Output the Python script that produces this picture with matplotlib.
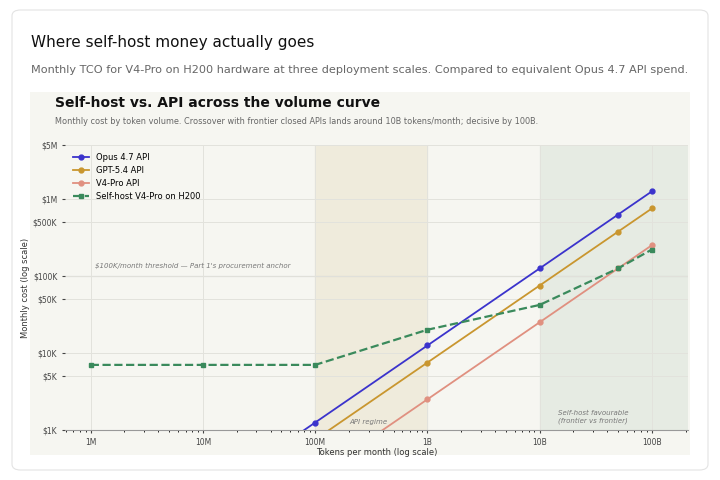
import matplotlib.pyplot as plt
from matplotlib.patches import FancyBboxPatch, Rectangle
from matplotlib.ticker import FixedLocator, NullFormatter

tokens = [1e6, 1e7, 1e8, 1e9, 1e10, 5e10, 1e11]
opus = [12.5, 125, 1250, 12500, 125000, 625000, 1250000]
gpt = [7.5, 75, 750, 7500, 75000, 375000, 750000]
v4pro = [2.5, 25, 250, 2500, 25000, 125000, 250000]
selfhost = [7000, 7000, 7000, 20000, 42000, 125000, 220000]

xticks = [1e6, 1e7, 1e8, 1e9, 1e10, 1e11]
xlabels = ["1M", "10M", "100M", "1B", "10B", "100B"]
yticks = [1e3, 5e3, 1e4, 5e4, 1e5, 5e5, 1e6, 5e6]
ylabels = ["$1K", "$5K", "$10K", "$50K", "$100K", "$500K", "$1M", "$5M"]

fig = plt.figure(figsize=(7.2, 4.8), dpi=100)
fig.patch.set_facecolor("white")
card = FancyBboxPatch((12/720, 10/480), 696/720, 460/480, boxstyle="round,pad=0,rounding_size=0.012",
                      transform=fig.transFigure, facecolor="white", edgecolor="#e3e3e3", lw=0.8, zorder=-3)
fig.patches.append(card)
panel = Rectangle((30/720, 25/480), 660/720, 363/480, transform=fig.transFigure,
                  facecolor="#f6f6f1", edgecolor="none", zorder=-2)
fig.patches.append(panel)

fig.text(31/720, 1 - 42/480, "Where self-host money actually goes", fontsize=11, color="#111", va="center")
fig.text(31/720, 1 - 70/480, "Monthly TCO for V4-Pro on H200 hardware at three deployment scales. Compared to equivalent Opus 4.7 API spend.",
         fontsize=8.1, color="#666", va="center")
fig.text(55/720, 1 - 103/480, "Self-host vs. API across the volume curve", fontsize=10, fontweight="bold", color="#111", va="center")
fig.text(55/720, 1 - 122/480, "Monthly cost by token volume. Crossover with frontier closed APIs lands around 10B tokens/month; decisive by 100B.",
         fontsize=5.9, color="#666", va="center")

ax = fig.add_axes([65/720, 1 - 430/480, 623/720, 285/480])
ax.set_facecolor("#f6f6f1")
ax.set_xscale("log")
ax.set_yscale("log")
ax.set_xlim(5.9e5, 2.1e11)
ax.set_ylim(1e3, 5e6)
ax.axvspan(1e8, 1e9, color="#efebdc", zorder=0)
ax.axvspan(1e10, 2.1e11, color="#e6ebe3", zorder=0)
ax.axhline(1e5, color="#bbb", lw=0.8, zorder=1)
ax.text(1.1e6, 1.25e5, "$100K/month threshold \u2014 Part 1's procurement anchor", fontsize=5, style="italic", color="#777")
ax.text(3e8, 1.2e3, "API regime", fontsize=5, style="italic", color="#777", ha="center")
ax.text(3e10, 1.25e3, "Self-host favourable\n(frontier vs frontier)", fontsize=5, style="italic", color="#777", ha="center")

ax.plot(tokens, opus, color="#3b33cc", marker="o", ms=3.5, lw=1.3, label="Opus 4.7 API", zorder=3)
ax.plot(tokens, gpt, color="#c9962f", marker="o", ms=3.5, lw=1.3, label="GPT-5.4 API", zorder=3)
ax.plot(tokens, v4pro, color="#e09080", marker="o", ms=3.5, lw=1.3, label="V4-Pro API", zorder=3)
ax.plot(tokens, selfhost, color="#3a8a5c", marker="s", ms=3.5, lw=1.6, ls="--", label="Self-host V4-Pro on H200", zorder=4)

ax.xaxis.set_major_locator(FixedLocator(xticks))
ax.set_xticklabels(xlabels)
ax.xaxis.set_minor_formatter(NullFormatter())
ax.yaxis.set_major_locator(FixedLocator(yticks))
ax.set_yticklabels(ylabels)
ax.yaxis.set_minor_locator(FixedLocator([]))
ax.tick_params(labelsize=5.5, colors="#444", length=2)
ax.tick_params(which="minor", length=1.5)
ax.grid(True, which="major", color="#e2e2dc", lw=0.7)
for s in ["top", "right", "left"]:
    ax.spines[s].set_visible(False)
ax.spines["bottom"].set_color("#999")
ax.set_xlabel("Tokens per month (log scale)", fontsize=6, color="#333", labelpad=1)
ax.set_ylabel("Monthly cost (log scale)", fontsize=6, color="#333", labelpad=2)
ax.legend(loc="upper left", fontsize=6, frameon=False, handlelength=2, labelspacing=0.5)

fig.savefig("out.png", dpi=100)
